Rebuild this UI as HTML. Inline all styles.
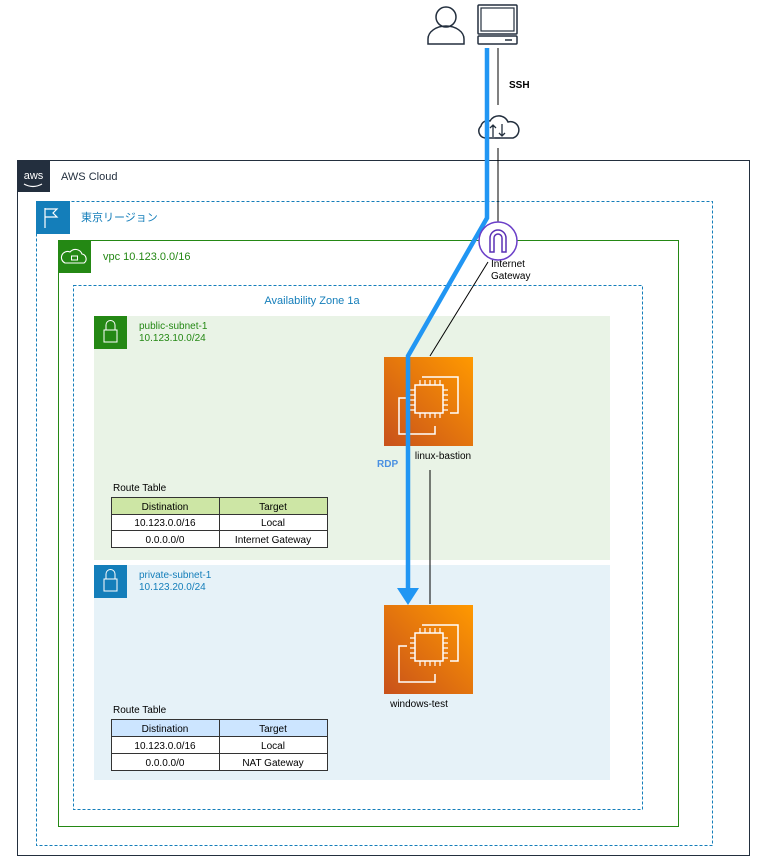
<!DOCTYPE html>
<html><head><meta charset="utf-8"><style>
body{margin:0;background:#fff;}
svg{display:block;font-family:"Liberation Sans","Noto Sans CJK JP",sans-serif;}
</style></head><body>
<svg width="762" height="860" viewBox="0 0 762 860" xmlns="http://www.w3.org/2000/svg">
<!-- AWS cloud -->
<rect x="17.5" y="160.5" width="732" height="695" fill="#fff" stroke="#232F3E" stroke-width="1"/>
<rect x="17" y="160" width="33" height="32" fill="#232F3E"/>
<text x="33.5" y="179" font-size="11" fill="#fff" text-anchor="middle">aws</text>
<path d="M24 184 Q33 189 42 184" stroke="#fff" fill="none" stroke-width="1.2"/>
<text x="61" y="180" font-size="11" fill="#232F3E">AWS Cloud</text>
<!-- Region -->
<rect x="36.5" y="201.5" width="676" height="644" fill="none" stroke="#147EBA" stroke-dasharray="3,2"/>
<rect x="36" y="201" width="34" height="33" fill="#147EBA"/>
<path d="M45 208 V228 M45 209 H57 L53 213 L57 217 H45" stroke="#fff" fill="none" stroke-width="1.2"/>
<text x="81" y="221" font-size="11" fill="#147EBA">東京リージョン</text>
<!-- VPC -->
<rect x="58.5" y="240.5" width="620" height="586" fill="none" stroke="#248814"/>
<rect x="58" y="240" width="33" height="33" fill="#248814"/>
<path d="M65 263 H84 A5 5 0 0 0 82 254 A7 7 0 0 0 70 252 A5 5 0 0 0 65 263 Z" stroke="#fff" fill="none" stroke-width="1.1"/>
<rect x="71.5" y="256" width="6" height="4" stroke="#fff" fill="none"/>
<text x="103" y="260" font-size="11" fill="#248814">vpc 10.123.0.0/16</text>
<!-- AZ -->
<rect x="73.5" y="285.5" width="569" height="524" fill="none" stroke="#147EBA" stroke-dasharray="3,2"/>
<text x="312" y="304" font-size="11" fill="#147EBA" text-anchor="middle">Availability Zone 1a</text>
<!-- public subnet -->
<rect x="94" y="316" width="516" height="244" fill="#E9F3E6"/>
<rect x="94" y="316" width="33" height="33" fill="#248814"/>
<rect x="104" y="330" width="13" height="12" stroke="#fff" fill="none"/>
<path d="M106 330 V325 A4.5 4.5 0 0 1 115 325 V330" stroke="#fff" fill="none"/>
<text x="139" y="329" font-size="10" fill="#248814">public-subnet-1</text>
<text x="139" y="341" font-size="10" fill="#248814">10.123.10.0/24</text>
<!-- private subnet -->
<rect x="94" y="565" width="516" height="215" fill="#E6F2F8"/>
<rect x="94" y="565" width="33" height="33" fill="#147EBA"/>
<rect x="104" y="579" width="13" height="12" stroke="#fff" fill="none"/>
<path d="M106 579 V574 A4.5 4.5 0 0 1 115 574 V579" stroke="#fff" fill="none"/>
<text x="139" y="578" font-size="10" fill="#147EBA">private-subnet-1</text>
<text x="139" y="590" font-size="10" fill="#147EBA">10.123.20.0/24</text>
<defs><linearGradient id="g" x1="0" y1="1" x2="1" y2="0"><stop offset="0" stop-color="#C8511B"/><stop offset="1" stop-color="#FF9900"/></linearGradient>
<g id="ec2"><rect width="89" height="89" fill="url(#g)"/>
<path d="M38 20 H74 V56 H66 M23 41 H15 V77 H51 V69" stroke="#fff" fill="none" stroke-width="1.5"/>
<rect x="31" y="28" width="28" height="28" stroke="#fff" fill="none" stroke-width="1.5"/>
<path d="M36 28 V23 M41 28 V23 M46 28 V23 M51 28 V23 M56 28 V23 M36 56 V61 M41 56 V61 M46 56 V61 M51 56 V61 M56 56 V61 M31 33 H26 M31 38 H26 M31 43 H26 M31 48 H26 M31 53 H26 M59 33 H64 M59 38 H64 M59 43 H64 M59 48 H64 M59 53 H64" stroke="#fff" stroke-width="1.2"/></g></defs>
<use href="#ec2" x="384" y="357"/>
<use href="#ec2" x="384" y="605"/>
<text x="443" y="459" font-size="10" fill="#000" text-anchor="middle">linux-bastion</text>
<text x="419" y="707" font-size="10" fill="#000" text-anchor="middle">windows-test</text>
<!-- tables -->
<text x="113" y="491" font-size="10">Route Table</text>
<g font-size="10" text-anchor="middle" stroke-width="1">
<rect x="111.5" y="497.5" width="216" height="17" fill="#CDE6A5" stroke="#333"/>
<rect x="111.5" y="514.5" width="216" height="16" fill="#fff" stroke="#333"/>
<rect x="111.5" y="530.5" width="216" height="17" fill="#fff" stroke="#333"/>
<line x1="219.5" y1="497" x2="219.5" y2="548" stroke="#333"/>
<text x="165" y="510">Distination</text><text x="273" y="510">Target</text>
<text x="165" y="526">10.123.0.0/16</text><text x="273" y="526">Local</text>
<text x="165" y="543">0.0.0.0/0</text><text x="273" y="543">Internet Gateway</text>
</g>
<text x="113" y="713" font-size="10">Route Table</text>
<g font-size="10" text-anchor="middle">
<rect x="111.5" y="719.5" width="216" height="17" fill="#CCE5FF" stroke="#333"/>
<rect x="111.5" y="736.5" width="216" height="17" fill="#fff" stroke="#333"/>
<rect x="111.5" y="753.5" width="216" height="17" fill="#fff" stroke="#333"/>
<line x1="219.5" y1="719" x2="219.5" y2="771" stroke="#333"/>
<text x="165" y="732">Distination</text><text x="273" y="732">Target</text>
<text x="165" y="749">10.123.0.0/16</text><text x="273" y="749">Local</text>
<text x="165" y="766">0.0.0.0/0</text><text x="273" y="766">NAT Gateway</text>
</g>
<!-- thin lines -->
<line x1="498" y1="48" x2="498" y2="105" stroke="#000"/>
<line x1="498" y1="148" x2="498" y2="228" stroke="#000"/>
<line x1="488" y1="262" x2="430" y2="356" stroke="#000"/>
<line x1="430" y1="470" x2="430" y2="604" stroke="#000"/>
<text x="509" y="88" font-size="10" font-weight="bold">SSH</text>
<!-- person -->
<circle cx="446" cy="17" r="10" fill="none" stroke="#232F3E" stroke-width="1.5"/>
<path d="M428 44 V39 A18 13 0 0 1 464 39 V44 Z" fill="none" stroke="#232F3E" stroke-width="1.5"/>
<!-- computer -->
<rect x="478" y="5" width="39" height="29" rx="1" fill="none" stroke="#232F3E" stroke-width="1.5"/>
<rect x="481" y="8" width="33" height="23" fill="none" stroke="#232F3E" stroke-width="1.2"/>
<rect x="478" y="36" width="39" height="8" rx="1" fill="none" stroke="#232F3E" stroke-width="1.5"/>
<line x1="505" y1="40" x2="512" y2="40" stroke="#232F3E" stroke-width="1.5"/>
<!-- cloud icon -->
<path d="M485 138 A7 7 0 0 1 481 126 A7 7 0 0 1 490 121 A10 10 0 0 1 508 122 A8 8 0 0 1 513 138 Z" fill="#fff" stroke="#232F3E" stroke-width="1.5"/>
<path d="M493 137 V125 M490 128 L493 125 L496 128 M502 124 V136 M499 133 L502 136 L505 133 M495 138 H500" stroke="#232F3E" stroke-width="1.3" fill="none"/>
<!-- blue path -->
<polyline points="487,48 487,218 408,356 408,590" fill="none" stroke="#2196F3" stroke-width="4.5"/>
<polygon points="397,588 419,588 408,605" fill="#2196F3"/>
<text x="377" y="467" font-size="10" font-weight="bold" fill="#4A90E2">RDP</text>
<!-- IGW -->
<circle cx="498" cy="241" r="19" fill="#fff" stroke="#6B3FC8" stroke-width="1.5"/>
<path d="M490 252 V238 A8 8 0 0 1 506 238 V252 H502 V238 A4 4 0 0 0 494 238 V252 Z" fill="#fff" stroke="#5A30B5" stroke-width="1.5"/>
<text x="491" y="267" font-size="10">Internet</text>
<text x="491" y="279" font-size="10">Gateway</text>
</svg>
</body></html>
